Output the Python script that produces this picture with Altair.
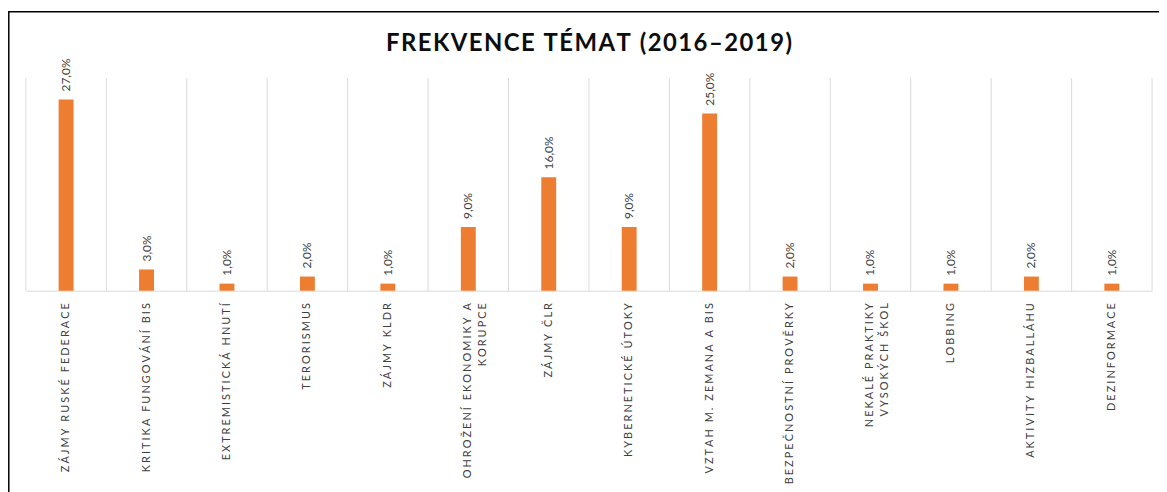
import altair as alt
import pandas as pd

categories = [
    "ZÁJMY RUSKÉ FEDERACE",
    "KRITIKA FUNGOVÁNÍ BIS",
    "EXTREMISTICKÁ HNUTÍ",
    "TERORISMUS",
    "ZÁJMY KLDR",
    "OHROŽENÍ EKONOMIKY A|KORUPCE",
    "ZÁJMY ČLR",
    "KYBERNETICKÉ ÚTOKY",
    "VZTAH M. ZEMANA A BIS",
    "BEZPEČNOSTNÍ PROVĚRKY",
    "NEKALÉ PRAKTIKY|VYSOKÝCH ŠKOL",
    "LOBBING",
    "AKTIVITY HIZBALLÁHU",
    "DEZINFORMACE",
]
values = [27, 3, 1, 2, 1, 9, 16, 9, 25, 2, 1, 1, 2, 1]
title_text = ["FREKVENCE TÉMAT (2016–2019)"]

SP = "\u2009\u200a"
PAD = "\u2007" + SP
HAIR = "\u200a"


def spaced(s):
    lines = s.split("|")
    n = max(len(l) for l in lines)
    out = []
    for l in lines:
        pad = round((n - len(l)) / 2)
        out.append(SP.join(list(l)) + PAD * pad)
    return "|".join(out)


disp = [spaced(c) for c in categories]
labels = [f"{v:.1f}".replace(".", ",") + "%" for v in values]
is_last = [i == len(categories) - 1 for i in range(len(categories))]
df = pd.DataFrame({"cat": disp, "value": values, "label": labels, "last": is_last})
title_df = pd.DataFrame({"t": [HAIR.join(list(t)) for t in title_text]})

W, H = 1134, 214
FONT = "Lato"

xscale = alt.Scale(paddingInner=0, paddingOuter=0)
yscale = alt.Scale(domain=[0, 30], nice=False)

x_axis = alt.X(
    "cat:N",
    sort=disp,
    scale=xscale,
    axis=alt.Axis(
        title=None,
        labelAngle=270,
        labelExpr="split(datum.value, '|')",
        labelFont=FONT,
        labelFontSize=11,
        labelColor="#404040",
        labelPadding=12,
        labelLimit=1000,
        labelLineHeight=15,
        ticks=False,
        grid=False,
        domainColor="#d9d9d9",
        domainWidth=1,
    ),
)

base = alt.Chart(df)

grid = base.mark_rule(color="#d9d9d9", strokeWidth=1).encode(
    x=alt.X("cat:N", sort=disp, scale=xscale, bandPosition=0),
    y=alt.value(0),
    y2=alt.value(H),
)
grid_last = base.transform_filter("datum.last").mark_rule(
    color="#d9d9d9", strokeWidth=1
).encode(
    x=alt.X("cat:N", sort=disp, scale=xscale, bandPosition=1),
    y=alt.value(0),
    y2=alt.value(H),
)

bars = base.mark_bar(size=15, color="#ED7D31").encode(
    x=x_axis,
    y=alt.Y("value:Q", scale=yscale, axis=None),
)

text = base.mark_text(
    angle=270, align="left", baseline="middle", dx=8,
    font=FONT, fontSize=12, color="#404040",
).encode(
    x=alt.X("cat:N", sort=disp, scale=xscale),
    y=alt.Y("value:Q", scale=yscale),
    text="label:N",
)

frame = base.transform_filter("datum.last").mark_rect(
    fill=None, stroke="#000000", strokeWidth=1.5
).encode(
    x=alt.value(-17.2), x2=alt.value(W + 40), y=alt.value(-67), y2=alt.value(H + 300)
)

title = alt.Chart(title_df).mark_text(
    font=FONT, fontSize=24, fontWeight="bold", color="#0d0d0d",
    align="center", baseline="middle",
).encode(x=alt.value(W / 2), y=alt.value(-34), text="t:N")

chart = alt.layer(grid, grid_last, bars, text, frame, title).properties(
    width=W,
    height=H,
    padding={"left": 18, "top": 69, "right": 7, "bottom": 201},
    autosize=alt.AutoSizeParams(type="none"),
).configure_view(stroke=None)

chart.save("out.html", embed_options={"renderer": "svg", "actions": False})
